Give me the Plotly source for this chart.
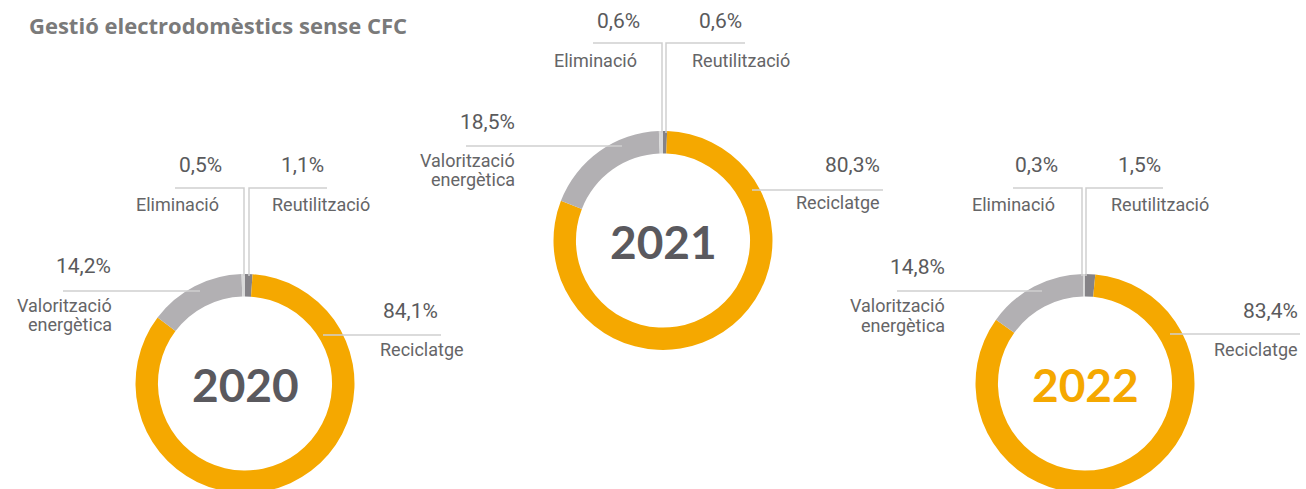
import plotly.graph_objects as go

# ---------------- data ----------------
years = ["2020", "2021", "2022"]
categories = ["Reutilització", "Reciclatge", "Valorització energètica", "Eliminació"]
values_2020 = [1.1, 84.1, 14.2, 0.5]
values_2021 = [0.6, 80.3, 18.5, 0.6]
values_2022 = [1.5, 83.4, 14.8, 0.3]
title_text = "Gestió electrodomèstics sense CFC"
label_lines = [["Reutilització"], ["Reciclatge"], ["Valorització", "energètica"], ["Eliminació"]]

# ---------------- style / layout ----------------
W, H = 1306, 493          # page viewport is 489 high: the donuts' bottoms are cut as in the original
slice_colors = ["#858387", "#F5A800", "#B2B0B3", "#D9D9D9"]
year_colors = ["#5A595E", "#5A595E", "#F5A800"]
line_color = "#CFCFCF"
pct_color = "#5A5A5C"
name_color = "#656567"
R = 109.5
HOLE = 0.795
NAME_SPACING = 19.5

layouts = [
    dict(cx=245, cy=H - R,
         labels=[
             dict(pct=(326, 164.5, "right"), name=(270, 204, "left"), line=[(327, 188), (249, 188), (249, None)]),
             dict(pct=(440, 311, "right"), name=(378, 349, "left"), line=[(323, 335), (441, 335)]),
             dict(pct=(113, 266, "right"), name=(114, 315, "right"), line=[(63, 291), (200, 291)]),
             dict(pct=(224, 164.5, "right"), name=(221, 204, "right"), line=[(175, 188), (244, 188), (244, None)]),
         ]),
    dict(cx=663, cy=131 + R,
         labels=[
             dict(pct=(744, 20.5, "right"), name=(690, 60, "left"), line=[(745, 43), (666, 43), (666, None)]),
             dict(pct=(882, 165, "right"), name=(882, 202, "right"), line=[(752, 190), (883, 190)]),
             dict(pct=(517, 121.5, "right"), name=(517, 170, "right"), line=[(466, 146), (622, 146)]),
             dict(pct=(642, 20.5, "right"), name=(639, 60, "right"), line=[(593, 43), (662, 43), (662, None)]),
         ]),
    dict(cx=1085, cy=H - R,
         labels=[
             dict(pct=(1163, 164.5, "right"), name=(1109, 204, "left"), line=[(1163, 188), (1086, 188), (1086, None)]),
             dict(pct=(1300, 311, "right"), name=(1300, 349, "right"), line=[(1170, 334), (1300, 334)]),
             dict(pct=(947, 266.5, "right"), name=(947, 315.5, "right"), line=[(897, 291), (1042, 291)]),
             dict(pct=(1060, 164.5, "right"), name=(1057, 204, "right"), line=[(1013, 188), (1082, 188), (1082, None)]),
         ]),
]

all_values = [values_2020, values_2021, values_2022]

fig = go.Figure()
annotations = []
shapes = []

# invisible pixel-based axis for labels and leader lines
fig.add_trace(go.Scatter(x=[0, W], y=[0, H], mode="markers", marker=dict(opacity=0),
                         hoverinfo="skip", showlegend=False))


def fmt(v):
    return f"{v:.1f}".replace(".", ",") + "%"


for year, vals, lay, ycol in zip(years, all_values, layouts, year_colors):
    cx, cy = lay["cx"], lay["cy"]
    fig.add_trace(go.Pie(
        values=vals, labels=categories, sort=False, direction="clockwise", rotation=0,
        hole=HOLE, textinfo="none", hoverinfo="label+value",
        marker=dict(colors=slice_colors, line=dict(width=0)),
        domain=dict(x=[(cx - R) / W, (cx + R) / W],
                    y=[max(0, 1 - (cy + R) / H), 1 - (cy - R) / H]),
        showlegend=False,
    ))
    annotations.append(dict(x=cx, y=cy + 1, xref="x", yref="y", text=year, showarrow=False,
                            xanchor="center", yanchor="middle",
                            font=dict(family="Lato", size=46, color=ycol, weight=700)))
    for v, lines, lab in zip(vals, label_lines, lay["labels"]):
        px, py, pa = lab["pct"]
        annotations.append(dict(x=px, y=py, xref="x", yref="y", text=fmt(v), showarrow=False,
                                xanchor=pa, yanchor="middle",
                                font=dict(family="Roboto", size=21, color=pct_color, weight=400)))
        nx, ny, na = lab["name"]
        n = len(lines)
        for i, t in enumerate(lines):
            annotations.append(dict(x=nx, y=ny + (i - (n - 1) / 2) * NAME_SPACING, xref="x", yref="y",
                                    text=t, showarrow=False, xanchor=na, yanchor="middle",
                                    font=dict(family="Roboto", size=18, color=name_color, weight=400)))
        pts = [(x, (cy - R + 2) if y is None else y) for x, y in lab["line"]]
        path = "M " + " L ".join(f"{x},{y}" for x, y in pts)
        shapes.append(dict(type="path", path=path, xref="x", yref="y", layer="above",
                           line=dict(color=line_color, width=1.5)))

annotations.append(dict(x=27, y=25, xref="x", yref="y", text=title_text, showarrow=False,
                        xanchor="left", yanchor="middle",
                        font=dict(family="Open Sans", size=22, color="#7A7A7A", weight=700)))

fig.update_layout(
    width=W, height=H, margin=dict(l=0, r=0, t=0, b=0),
    paper_bgcolor="white", plot_bgcolor="white",
    xaxis=dict(range=[0, W], visible=False, fixedrange=True, domain=[0, 1]),
    yaxis=dict(range=[H, 0], visible=False, fixedrange=True, domain=[0, 1]),
    annotations=annotations, shapes=shapes, showlegend=False,
)

fig.write_html(
    "out.html",
    config={"displayModeBar": False},
    post_script=("document.body.style.margin='0px';"
                 "document.body.style.overflow='hidden';"
                 "document.documentElement.style.overflow='hidden';"),
)
